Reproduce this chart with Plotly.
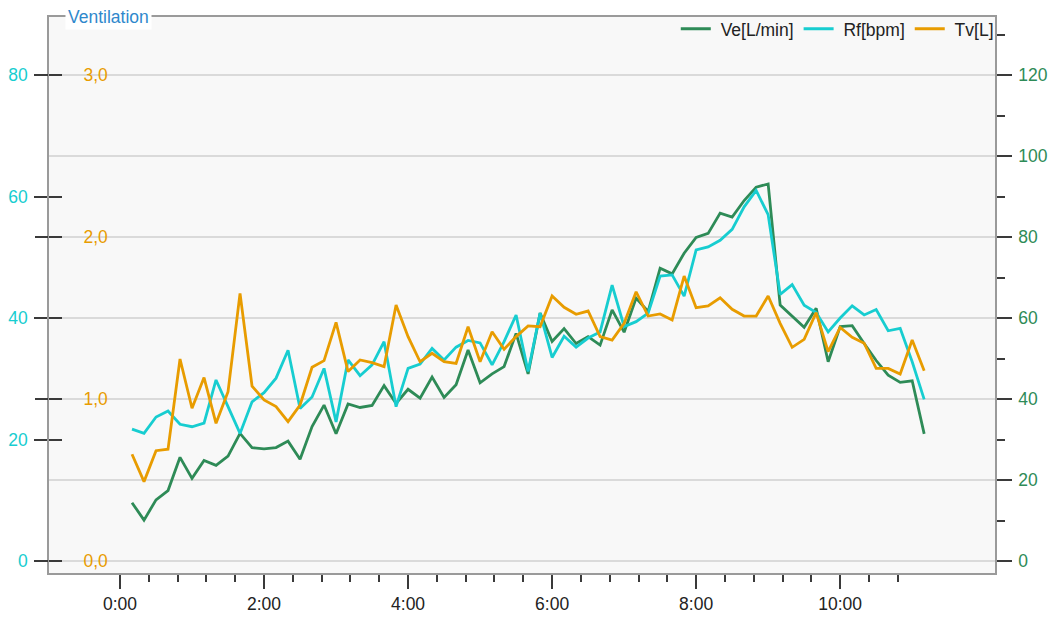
import plotly.graph_objects as go

# sample times in seconds
times_s = [10, 20, 30, 40, 50, 60, 70, 80, 90, 100, 110, 120, 130, 140, 150, 160, 170, 180,
           190, 200, 210, 220, 230, 240, 250, 260, 270, 280, 290, 300, 310, 320, 330, 340,
           350, 360, 370, 380, 390, 400, 410, 420, 430, 440, 450, 460, 470, 480, 490, 500,
           510, 520, 530, 540, 550, 560, 570, 580, 590, 600, 610, 620, 630, 640, 650, 660, 670]

ve = [14.4, 10.1, 15.1, 17.4, 25.6, 20.4, 24.8, 23.6, 25.9, 31.5, 28.0, 27.7, 28.0, 29.6,
      25.1, 33.2, 38.5, 31.4, 38.8, 37.9, 38.4, 43.3, 38.9, 42.4, 40.2, 45.4, 40.4, 43.5,
      52.1, 44.0, 46.2, 48.0, 56.2, 46.2, 61.2, 54.2, 57.4, 53.7, 55.4, 53.3, 62.0, 56.5,
      64.9, 61.6, 72.3, 70.9, 76.0, 79.9, 80.9, 85.9, 84.9, 89.0, 92.3, 93.1, 63.2, 60.5,
      57.7, 62.4, 49.2, 57.9, 58.1, 53.7, 49.5, 45.9, 44.1, 44.5, 31.4]

rf = [21.7, 21.0, 23.7, 24.7, 22.5, 22.1, 22.7, 29.8, 25.4, 21.0, 26.2, 27.7, 30.1, 34.7,
      25.1, 27.0, 31.7, 22.9, 33.1, 30.5, 32.3, 36.1, 25.4, 31.7, 32.4, 35.0, 33.1, 35.2,
      36.3, 35.9, 32.3, 36.1, 40.5, 31.2, 40.8, 33.5, 37.0, 35.2, 36.7, 37.7, 45.4, 38.6,
      39.4, 40.8, 46.9, 47.1, 43.6, 51.2, 51.7, 52.8, 54.6, 58.3, 61.0, 57.0, 43.9, 45.5,
      42.1, 40.9, 37.7, 40.0, 42.0, 40.5, 41.4, 37.9, 38.3, 32.8, 26.6]

tv = [0.659, 0.490, 0.681, 0.690, 1.247, 0.943, 1.132, 0.850, 1.045, 1.652, 1.080, 0.994,
      0.953, 0.860, 0.963, 1.196, 1.237, 1.473, 1.169, 1.241, 1.224, 1.200, 1.580, 1.385,
      1.230, 1.282, 1.230, 1.220, 1.446, 1.230, 1.415, 1.307, 1.385, 1.451, 1.446, 1.636,
      1.566, 1.523, 1.543, 1.385, 1.364, 1.467, 1.662, 1.512, 1.525, 1.488, 1.759, 1.564,
      1.574, 1.625, 1.554, 1.512, 1.512, 1.636, 1.467, 1.319, 1.368, 1.533, 1.292, 1.442,
      1.381, 1.344, 1.189, 1.189, 1.154, 1.364, 1.175]

x_major_vals = [0, 2, 4, 6, 8, 10]
x_major_text = ["0:00", "2:00", "4:00", "6:00", "8:00", "10:00"]
x_minor_vals = [0.4, 0.8, 1.2, 1.6, 2.4, 2.8, 3.2, 3.6, 4.4, 4.8, 5.2, 5.6, 6.4, 6.8,
                7.2, 7.6, 8.4, 8.8, 9.2, 9.6, 10.4, 10.8]
rf_ticks = [0, 20, 40, 60, 80]
tv_ticks = [0, 1, 2, 3]
ve_ticks = [0, 20, 40, 60, 80, 100, 120]

GREEN = "#2e8b57"
CYAN = "#17cdd0"
ORANGE = "#e89c00"
FONT = "Liberation Sans, Arial, sans-serif"
FS = 17.5
TICKC = "#3a3a3a"
FRAME = "#9a9a9a"
NB = "\u00a0"

x_min = [t / 60 for t in times_s]

ve_range = [-2.963, 134.32]
rf_range = [v * 80 / 120 for v in ve_range]
tv_range = [v * 3 / 120 for v in ve_range]

fig = go.Figure()
fig.add_trace(go.Scatter(x=x_min, y=ve, name=NB + "Ve[L/min]", mode="lines",
                         line=dict(color=GREEN, width=2.8), yaxis="y"))
fig.add_trace(go.Scatter(x=x_min, y=rf, name=NB + "Rf[bpm]", mode="lines",
                         line=dict(color=CYAN, width=2.8), yaxis="y2"))
fig.add_trace(go.Scatter(x=x_min, y=tv, name=NB + "Tv[L]", mode="lines",
                         line=dict(color=ORANGE, width=2.8), yaxis="y3"))
fig.add_trace(go.Scatter(x=[], y=[], showlegend=False, yaxis="y4", hoverinfo="skip"))
fig.add_trace(go.Scatter(x=[], y=[], showlegend=False, yaxis="y5", hoverinfo="skip"))

common_y = dict(zeroline=False, showgrid=False, tickcolor=TICKC, tickwidth=1.6,
                automargin=False)

fig.update_layout(
    width=1054, height=619, autosize=False,
    margin=dict(l=49, r=59, t=17, b=46, autoexpand=False),
    paper_bgcolor="white", plot_bgcolor="#f8f8f8",
    separators=",.",
    font=dict(family=FONT, size=FS, color="#222"),
    showlegend=True,
    legend=dict(orientation="h", x=1.004, xanchor="right", y=1.011, yanchor="top",
                bgcolor="rgba(0,0,0,0)", font=dict(size=FS, color="#222"),
                itemwidth=30, traceorder="normal"),
    xaxis=dict(range=[-0.986, 12.15], tickmode="array", tickvals=x_major_vals,
               ticktext=x_major_text, ticks="outside", ticklen=14, tickwidth=1.6,
               tickcolor=TICKC, showline=True, linecolor=FRAME, linewidth=1.6,
               mirror=True, showgrid=False, zeroline=False, ticklabelstandoff=0,
               automargin=False,
               tickfont=dict(size=FS, color="#222"),
               minor=dict(tickmode="array", tickvals=x_minor_vals, ticks="outside",
                          ticklen=7, tickwidth=1.6, tickcolor=TICKC, showgrid=False)),
    yaxis=dict(range=ve_range, side="right", tickmode="array", tickvals=ve_ticks,
               ticks="outside", ticklen=15, tickwidth=1.6, tickcolor=TICKC,
               showline=True, linecolor=FRAME, linewidth=1.6, ticklabelstandoff=3,
               showgrid=True, gridcolor="#dadada", gridwidth=1.5, zeroline=False,
               automargin=False,
               tickfont=dict(size=FS, color=GREEN),
               minor=dict(dtick=10, tick0=0, ticks="outside", ticklen=8,
                          tickwidth=1.6, tickcolor=TICKC, showgrid=False)),
    yaxis2=dict(common_y, range=rf_range, overlaying="y", side="left", anchor="x",
                tickmode="array", tickvals=rf_ticks, ticks="outside", ticklen=13,
                showline=True, linecolor=FRAME, linewidth=1.6, ticklabelstandoff=3,
                tickfont=dict(size=FS, color=CYAN)),
    yaxis3=dict(common_y, range=tv_range, overlaying="y", side="left", anchor="x",
                tickmode="array", tickvals=tv_ticks, tickformat=".1f",
                ticks="inside", ticklen=13, ticklabelposition="inside",
                ticklabelstandoff=22, showline=False,
                tickfont=dict(size=FS, color=ORANGE)),
    yaxis4=dict(common_y, range=rf_range, overlaying="y", side="left", anchor="x",
                tickmode="array", tickvals=rf_ticks, ticks="inside", ticklen=13,
                showticklabels=False, showline=False),
    yaxis5=dict(common_y, range=tv_range, overlaying="y", side="left", anchor="x",
                tickmode="array", tickvals=tv_ticks, ticks="outside", ticklen=13,
                showticklabels=False, showline=False),
    annotations=[dict(text="Ventilation", xref="paper", yref="paper", x=0.0165, y=1,
                      xanchor="left", yanchor="middle", showarrow=False,
                      bgcolor="white", borderpad=2,
                      font=dict(size=FS, color="#2f88cc", family=FONT))],
)

fig.write_html("out.html", config={"displayModeBar": False},
               post_script="document.body.style.margin='0';")
